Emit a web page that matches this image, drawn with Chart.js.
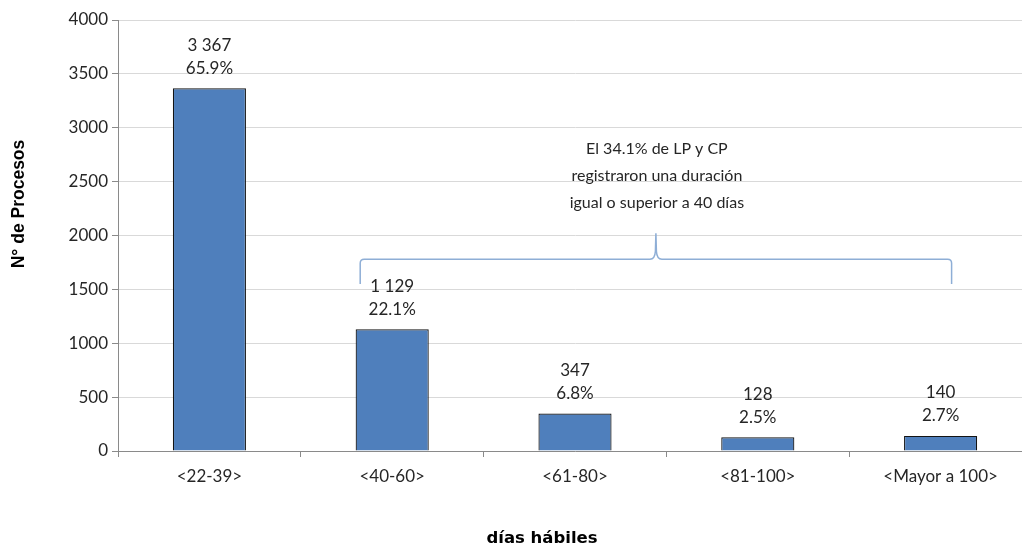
<!DOCTYPE html>
<html>
<head>
<meta charset="utf-8">
<script src="https://cdn.jsdelivr.net/npm/chart.js@4.4.1/dist/chart.umd.min.js"></script>
<style>
  html, body { margin: 0; padding: 0; background: #fff; overflow: hidden; }
  #wrap { width: 1040px; height: 548px; }
</style>
</head>
<body>
<div id="wrap"><canvas id="c" width="1040" height="548"></canvas></div>
<script>
// Duración de los procesos (LP y CP) por tramo de días hábiles
const categories = ['<22-39>', '<40-60>', '<61-80>', '<81-100>', '<Mayor a 100>'];
const procesos = [3367, 1129, 347, 128, 140];
const porcentajes = ['65.9%', '22.1%', '6.8%', '2.5%', '2.7%'];
const yTicks = [0, 500, 1000, 1500, 2000, 2500, 3000, 3500, 4000];
const notaLineas = ['El 34.1% de LP y CP', 'registraron una duración', 'igual o superior a 40 días'];
const tituloY = 'N° de Procesos';
const tituloX = 'días hábiles';

const labelFont = '17px Lato';
const notaFont = '16px Lato';
const textColor = '#262626';

function fmtMiles(v) {
  return String(v).replace(/\B(?=(\d{3})+(?!\d))/g, ' ');
}

// Etiquetas de valor (cantidad + porcentaje) sobre cada barra
const valueLabels = {
  id: 'valueLabels',
  afterDatasetsDraw(chart) {
    const ctx = chart.ctx;
    const meta = chart.getDatasetMeta(0);
    ctx.save();
    ctx.font = labelFont;
    ctx.fillStyle = textColor;
    ctx.textAlign = 'center';
    ctx.textBaseline = 'middle';
    meta.data.forEach((bar, i) => {
      ctx.fillText(fmtMiles(procesos[i]), bar.x, bar.y - 43);
      ctx.fillText(porcentajes[i], bar.x, bar.y - 20);
    });
    ctx.restore();
  }
};

// Llave que agrupa los tramos de 40 días o más, con su nota
const braceNote = {
  id: 'braceNote',
  afterDatasetsDraw(chart) {
    const ctx = chart.ctx;
    const xs = chart.scales.x, ys = chart.scales.y;
    const left = xs.getPixelForValue(1) - 32;
    const right = xs.getPixelForValue(4) + 11;
    const mid = (left + right) / 2;
    const yLine = ys.getPixelForValue(1780);
    const yPeak = ys.getPixelForValue(2020);
    const yEnd = ys.getPixelForValue(1550);
    ctx.save();
    ctx.strokeStyle = '#8eaed6';
    ctx.lineWidth = 1.5;
    ctx.beginPath();
    ctx.moveTo(left, yEnd);
    ctx.lineTo(left, yLine + 4);
    ctx.quadraticCurveTo(left, yLine, left + 4, yLine);
    ctx.lineTo(mid - 6, yLine);
    ctx.quadraticCurveTo(mid - 1, yLine, mid - 0.5, yLine - 8);
    ctx.lineTo(mid, yPeak);
    ctx.moveTo(mid, yPeak);
    ctx.lineTo(mid + 0.5, yLine - 8);
    ctx.quadraticCurveTo(mid + 1, yLine, mid + 6, yLine);
    ctx.lineTo(right - 4, yLine);
    ctx.quadraticCurveTo(right, yLine, right, yLine + 4);
    ctx.lineTo(right, yEnd);
    ctx.stroke();

    ctx.font = notaFont;
    ctx.fillStyle = textColor;
    ctx.textAlign = 'center';
    ctx.textBaseline = 'middle';
    notaLineas.forEach((t, i) => {
      ctx.fillText(t, mid + 1, yPeak - 85 + i * 27);
    });
    ctx.restore();
  }
};

// Títulos de ejes
const axisTitles = {
  id: 'axisTitles',
  afterDraw(chart) {
    const ctx = chart.ctx;
    ctx.save();
    ctx.fillStyle = '#000';
    ctx.font = 'bold 17.5px "Liberation Sans"';
    ctx.textAlign = 'center';
    ctx.textBaseline = 'middle';
    ctx.translate(19, 204);
    ctx.rotate(-Math.PI / 2);
    ctx.fillText(tituloY, 0, 0);
    ctx.restore();

    ctx.save();
    ctx.fillStyle = '#000';
    ctx.font = 'bold 16.5px "DejaVu Sans"';
    ctx.textAlign = 'center';
    ctx.textBaseline = 'middle';
    ctx.fillText(tituloX, 542, 539);
    ctx.restore();
  }
};

new Chart(document.getElementById('c'), {
  type: 'bar',
  data: {
    labels: categories,
    datasets: [{
      data: procesos,
      backgroundColor: '#4f7fbc',
      borderColor: '#141414',
      borderWidth: 1.2,
      borderSkipped: 'bottom',
      barPercentage: 0.4,
      categoryPercentage: 1.0
    }]
  },
  options: {
    responsive: false,
    animation: false,
    devicePixelRatio: 1,
    layout: { padding: { top: 20, right: 8, left: 0, bottom: 0 } },
    plugins: {
      legend: { display: false },
      tooltip: { enabled: false }
    },
    scales: {
      x: {
        offset: true,
        grid: {
          offset: true,
          drawOnChartArea: false,
          drawTicks: true,
          tickLength: 6,
          color: '#8a8a8a'
        },
        border: { color: '#8a8a8a', width: 1 },
        ticks: { font: { family: 'Lato', size: 17 }, color: textColor, padding: 9 },
        afterFit(scale) { scale.height = 97; }
      },
      y: {
        min: 0,
        max: 4000,
        afterBuildTicks(scale) { scale.ticks = yTicks.map(v => ({ value: v })); },
        grid: {
          color: '#d9d9d9',
          tickColor: '#8a8a8a',
          tickLength: 6,
          drawTicks: true
        },
        border: { color: '#8a8a8a', width: 1 },
        ticks: {
          font: { family: 'Lato', size: 17 },
          color: textColor,
          padding: 4,
          callback: (v) => String(v)
        },
        afterFit(scale) { scale.width = 118; }
      }
    }
  },
  plugins: [valueLabels, braceNote, axisTitles]
});
</script>
</body>
</html>
